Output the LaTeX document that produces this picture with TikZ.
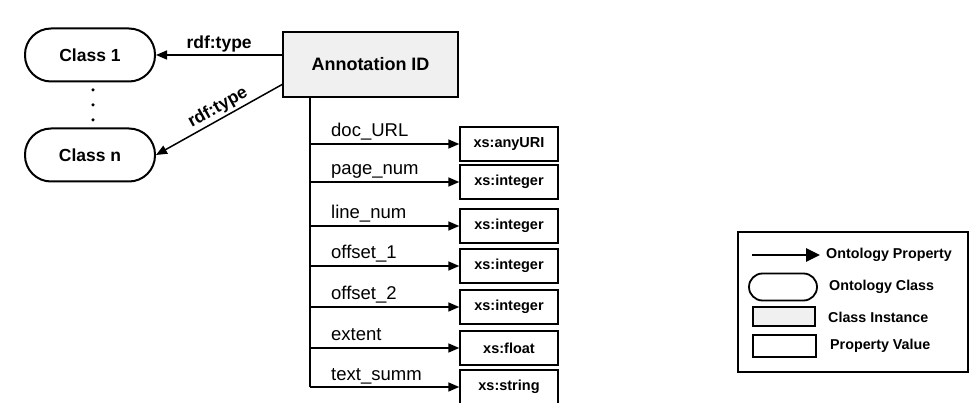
\documentclass[tikz,border=0pt]{standalone}
\usepackage{fontspec}
\setmainfont{Liberation Sans}
\usetikzlibrary{arrows.meta,calc}
\begin{document}
\begin{tikzpicture}[x=1pt,y=-1pt,
  cls/.style={draw,line width=2pt,rounded corners=26pt,minimum width=130pt,minimum height=53pt,
    inner sep=0pt,font=\fontsize{17.5}{20}\selectfont\bfseries},
  inst/.style={draw,line width=1.4pt,fill=gray!12,minimum width=175pt,minimum height=65pt,
    inner sep=0pt,font=\fontsize{18}{20}\selectfont\bfseries},
  val/.style={draw,line width=1.4pt,minimum width=98pt,minimum height=34pt,inner sep=0pt,
    font=\fontsize{14.5}{16}\selectfont\bfseries},
  prop/.style={line width=1.5pt,-{Triangle[length=11pt,width=9pt]}},
  lbl/.style={anchor=base west,inner sep=0pt,font=\fontsize{18.5}{20}\selectfont},
  rdf/.style={inner sep=2pt,font=\fontsize{17.5}{20}\selectfont\bfseries},
  legtxt/.style={anchor=west,inner sep=0pt,font=\fontsize{14.3}{16}\selectfont\bfseries},
  dot/.style={circle,fill,inner sep=0pt,minimum size=3.5pt}
]
\useasboundingbox (0,0) rectangle (972,403);

% classes and the annotation instance
\node[cls] (c1) at (90,55) {Class 1};
\node[cls] (cn) at (90,155) {Class n};
\node[dot] (d1) at (93,90) {};
\node[dot] (d2) at (93,105) {};
\node[dot] (d3) at (93,120) {};
\node[inst] (ann) at (370.5,64.5) {Annotation ID};

\draw[prop] (ann.west |- c1.east) -- node[rdf,above] {rdf:type} (c1.east);
\coordinate (annlow) at (283,84);
\draw[prop] (annlow) -- node[rdf,pos=0.47,sloped,above] {rdf:type} (cn.east);

% property trunk
\coordinate (ttop) at (310,97);
\coordinate (tbot) at (310,387);
\draw[line width=1.5pt] (ttop) -- (tbot);

% property values
\foreach \i/\y/\p/\v in {1/144/doc\_URL/xs:anyURI,
                          2/182/page\_num/xs:integer,
                          3/226/line\_num/xs:integer,
                          4/266/offset\_1/xs:integer,
                          5/307/offset\_2/xs:integer,
                          6/348/extent/xs:float,
                          7/387/text\_summ/xs:string}{
  \coordinate (b\i) at (310,\y);
  \node[val] (v\i) at (509,\y) {\v};
  \draw[prop] (b\i) -- (v\i.west);
  \node[lbl] (l\i) at (331,\y-7) {\p};
}

% legend
\node[draw,line width=1.4pt,minimum width=230pt,minimum height=140pt,inner sep=0pt] (leg) at (853,302) {};
\coordinate (la) at (752,255);
\coordinate (lb) at (820,255);
\draw[line width=2.6pt,-{Triangle[length=14pt,width=13pt]}] (la) -- (lb);
\node[legtxt] (t1) at (826,255) {Ontology Property};
\node[cls,line width=1.8pt,minimum width=68pt,minimum height=27pt,rounded corners=13.5pt] (lc) at (783,287) {};
\node[legtxt] (t2) at (829,287) {Ontology Class};
\node[draw,line width=1.4pt,fill=gray!12,minimum width=62pt,minimum height=19pt,inner sep=0pt] (li) at (784,316.5) {};
\node[legtxt] (t3) at (828,317) {Class Instance};
\node[draw,line width=1.4pt,minimum width=63pt,minimum height=22pt,inner sep=0pt] (lv) at (784.5,346) {};
\node[legtxt] (t4) at (830,346) {Property Value};
\end{tikzpicture}
\end{document}
